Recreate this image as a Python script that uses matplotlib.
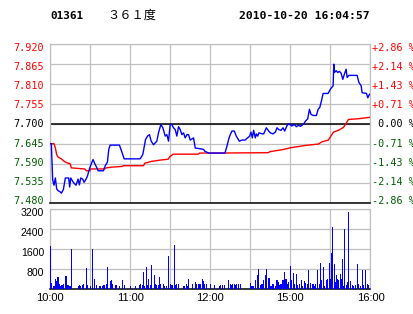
import matplotlib
matplotlib.use("Agg")
import matplotlib.pyplot as plt
from matplotlib.transforms import ScaledTranslation
import numpy as np

# ---------------- data ----------------
code = "01361"
name = "３６１度"
stamp = "2010-10-20 16:04:57"
prev_close = 7.700
price_ticks = [7.480, 7.535, 7.590, 7.645, 7.700, 7.755, 7.810, 7.865, 7.920]
vol_ticks = [800, 1600, 2400, 3200]
time_ticks = [0, 60, 120, 180, 240]
time_labels = ["10:00", "11:00", "12:00", "15:00", "16:00"]

price_min = [0, 1, 2, 3, 4, 5, 6, 7.5, 8.5, 10, 11, 11.5, 14, 14.75, 15.5, 17.5,
             19.5, 21, 22, 23, 24.5, 25.5, 27, 28, 29.5, 31, 32.25, 33.5, 35, 36,
             40, 41.5, 43, 44, 45, 52, 54, 55.5, 67.5, 69.5, 71.5, 73, 74.5, 75.75,
             77.5, 78.75, 80, 81.25, 83, 84.5, 86.25, 87.5, 88.75, 90, 91.25, 92.5,
             93.75, 95, 96.25, 97.5, 98.75, 100, 101.25, 102.5, 103.75, 105, 106.25,
             107.5, 108.75, 112.5, 115, 116, 118.75, 131, 132.5, 134, 135, 136.25,
             138, 139.5, 141.75, 144, 146, 148, 149.5, 150.5, 151.5, 152.5, 153.75,
             154.5, 155.5, 156.5, 158, 160, 162, 163.75, 165, 167, 168.75, 170,
             171.25, 173, 174.5, 175.75, 177.5, 178.75, 181, 183, 184.5, 186.25,
             187.5, 188.75, 190, 191.25, 193, 194.25, 195.5, 197, 199.5, 200.75, 202,
             203.25, 204.5, 208.25, 210, 212, 212.5, 213, 214.25, 215.5, 216.75, 218,
             219.25, 220.5, 221.75, 222.5, 223.75, 230, 231.25, 233, 233.75, 237,
             238, 239, 240]
price_val = [7.645, 7.645, 7.545, 7.530, 7.550, 7.520, 7.515, 7.512, 7.508, 7.518,
             7.540, 7.550, 7.550, 7.525, 7.550, 7.538, 7.530, 7.547, 7.531, 7.550,
             7.547, 7.538, 7.547, 7.555, 7.575, 7.590, 7.601, 7.590, 7.579, 7.570,
             7.570, 7.585, 7.594, 7.629, 7.641, 7.641, 7.620, 7.603, 7.603, 7.615,
             7.656, 7.666, 7.670, 7.652, 7.642, 7.647, 7.652, 7.675, 7.698, 7.689,
             7.666, 7.670, 7.652, 7.698, 7.698, 7.689, 7.684, 7.666, 7.692, 7.684,
             7.670, 7.675, 7.661, 7.670, 7.670, 7.655, 7.658, 7.661, 7.633, 7.631,
             7.629, 7.624, 7.619, 7.619, 7.638, 7.660, 7.670, 7.680, 7.680, 7.666,
             7.652, 7.655, 7.655, 7.661, 7.666, 7.677, 7.661, 7.682, 7.661, 7.672,
             7.666, 7.675, 7.673, 7.672, 7.689, 7.680, 7.675, 7.672, 7.677, 7.689,
             7.684, 7.682, 7.689, 7.680, 7.695, 7.700, 7.694, 7.698, 7.692, 7.696,
             7.693, 7.696, 7.700, 7.707, 7.714, 7.740, 7.726, 7.723, 7.723, 7.740,
             7.745, 7.763, 7.784, 7.784, 7.796, 7.805, 7.865, 7.842, 7.847, 7.842,
             7.845, 7.840, 7.823, 7.838, 7.851, 7.828, 7.834, 7.834, 7.815, 7.805,
             7.786, 7.784, 7.772, 7.780, 7.784]

avg_min = [0, 3, 4, 5, 6, 8.5, 11, 13.5, 15, 16, 26, 27.25, 30, 30.5, 41, 42, 46,
           54, 55, 70, 71, 76, 83.5, 88.5, 89.75, 92.25, 111, 112, 121, 163.5,
           164.75, 173.5, 180.5, 191, 201, 203.5, 208.5, 210.5, 212.25, 216, 219.75,
           221.5, 223.5, 231, 237.25, 240]
avg_val = [7.645, 7.645, 7.633, 7.615, 7.608, 7.603, 7.595, 7.591, 7.590, 7.578,
           7.575, 7.570, 7.570, 7.575, 7.575, 7.578, 7.580, 7.582, 7.584, 7.584,
           7.591, 7.596, 7.600, 7.602, 7.609, 7.616, 7.616, 7.619, 7.619, 7.620,
           7.623, 7.628, 7.634, 7.640, 7.644, 7.650, 7.655, 7.667, 7.677, 7.682,
           7.690, 7.700, 7.712, 7.714, 7.717, 7.718]

vol_min = [0, 1, 3, 4, 5, 6, 7, 8, 9, 10, 12, 13, 14, 15, 16, 21, 22, 23, 24, 25,
           27, 28, 30, 32, 33, 35, 37, 38, 39, 40, 41, 42, 43, 45, 46, 47, 49, 50,
           52, 54, 56, 60, 64, 67, 68, 69, 70, 71, 72, 73, 74, 75, 76, 78, 79, 80,
           81, 82, 83, 85, 86, 87, 89, 90, 91, 92, 93, 94, 95, 96, 100, 101, 102,
           103, 104, 107, 109, 110, 111, 112, 113, 114, 115, 116, 117, 120, 123,
           127, 128, 129, 131, 134, 135, 136, 137, 138, 139, 140, 141, 143,
           150, 151.25, 152.5, 153.75, 155.5, 156.25, 157.5, 158.75, 160, 161.25,
           162, 163.75, 164.5, 165.5, 167, 168.75, 170, 170.75, 172, 173, 174.5,
           175.75, 176.25, 177, 178, 178.75, 180, 180.75, 182, 183, 184.5, 185.5,
           187, 188, 189, 190.5, 191.25, 192.5, 193.75, 195, 196.25, 197, 198, 199,
           200.5, 201.5, 202.5, 203.25, 204.5, 205.75, 207, 208, 209, 209.75,
           210.75, 211.75, 212.75, 213.5, 214.5, 215.25, 216.25, 217.25, 218.25,
           219, 220, 220.75, 221.75, 222.75, 223.75, 224.75, 226.25, 227.5, 228.75,
           230, 231.25, 232.5, 233.75, 235, 236.25, 237.5, 238.75, 240]
vol_val = [1715, 230, 95, 380, 297, 460, 162, 95, 135, 162, 500, 135, 135, 95, 1600,
           95, 135, 95, 135, 200, 810, 135, 95, 1600, 380, 135, 95, 95, 95, 135,
           135, 200, 865, 297, 340, 200, 135, 135, 95, 340, 135, 95, 95, 135, 175,
           135, 660, 95, 865, 135, 380, 135, 945, 540, 175, 135, 135, 460, 175, 175,
           95, 95, 1310, 175, 135, 135, 1755, 135, 175, 175, 95, 95, 175, 95, 380,
           175, 255, 175, 175, 175, 175, 380, 297, 175, 175, 175, 135,
           93, 133, 133, 133, 333, 200, 133, 200, 200, 133, 200, 200, 200,
           227, 93, 93, 333, 533, 800, 133, 200, 333, 533, 800, 440, 440, 93, 200,
           93, 333, 267, 133, 173, 333, 667, 400, 400, 200, 267, 893, 333, 627, 200,
           600, 133, 200, 333, 93, 293, 227, 200, 733, 227, 200, 200, 93, 200, 733,
           200, 1027, 360, 867, 93, 333, 400, 1027, 400, 1427, 2467, 1000, 267, 533,
           400, 333, 600, 400, 1200, 93, 2400, 133, 267, 3107, 307, 133, 93, 133,
           1000, 200, 93, 760, 133, 760, 200, 133, 400]

# ---------------- layout ----------------
W, H = 414, 314
fig = plt.figure(figsize=(W / 100, H / 100), dpi=100)
fig.patch.set_facecolor("white")


def rect(l, t, r, b):
    return [l / W, 1 - b / H, (r - l) / W, (b - t) / H]


GRID = "#c0c0c0"
RED = "#ff0000"
GREEN = "#006000"
BLUE = "#0000ff"
MONO = "DejaVu Sans Mono"
SANS = "Liberation Sans"

ax = fig.add_axes(rect(50, 44.3, 370.5, 203.3))
ax.set_xlim(0, 240)
ax.set_ylim(price_ticks[0], price_ticks[-1])
ax.set_xticks(np.arange(0, 241, 30))
ax.set_xticklabels([])
ax.set_yticks(price_ticks)
ax.grid(True, color=GRID, lw=0.9)
ax.tick_params(length=0, pad=4.3)
for s in ["left", "right", "top"]:
    ax.spines[s].set_color(GRID)
    ax.spines[s].set_linewidth(0.9)
ax.spines["bottom"].set_color("black")
ax.spines["bottom"].set_linewidth(1.1)
ax.axhline(prev_close, color="black", lw=1.1, zorder=2)

ax.plot(avg_min, avg_val, color=RED, lw=1.0, zorder=3)
ax.plot(price_min, price_val, color=BLUE, lw=1.0, zorder=4)


def col(v):
    if abs(v - prev_close) < 1e-9:
        return "black"
    return RED if v > prev_close else GREEN


ax.set_yticklabels([f"{v:.3f}" for v in price_ticks], fontfamily=MONO, fontsize=7.3)
for lab, v in zip(ax.get_yticklabels(), price_ticks):
    lab.set_color(col(v))

ax2 = ax.twinx()
ax2.set_ylim(ax.get_ylim())
ax2.set_yticks(price_ticks)
pct_labels = []
for v in price_ticks:
    p = (v - prev_close) / prev_close * 100
    sign = "+" if p > 0.001 else ("-" if p < -0.001 else " ")
    pct_labels.append(f"{sign}{abs(p):.2f} %")
ax2.set_yticklabels(pct_labels, fontfamily=MONO, fontsize=7.3)
for lab, v in zip(ax2.get_yticklabels(), price_ticks):
    lab.set_color(col(v))
ax2.tick_params(length=0, pad=1.0)
for s in ax2.spines.values():
    s.set_visible(False)

# labels in the reference are spaced slightly tighter than the grid
n = len(price_ticks)
for labs in (ax.get_yticklabels(), ax2.get_yticklabels()):
    for i, lab in enumerate(labs):
        k = n - 1 - i  # index from top
        dy = -(2.4 - k * 0.675) / 100
        lab.set_transform(lab.get_transform() + ScaledTranslation(0, dy, fig.dpi_scale_trans))

# volume panel
av = fig.add_axes(rect(50, 209.3, 370.5, 288.5))
av.set_xlim(0, 240)
av.set_ylim(0, 3200)
av.bar(vol_min, vol_val, width=0.8, color=BLUE, linewidth=0, zorder=3)
av.set_yticks(vol_ticks)
av.set_yticklabels([str(v) for v in vol_ticks], fontfamily=SANS, fontsize=7.6)
av.set_xticks(time_ticks)
av.set_xticklabels(time_labels, fontfamily=SANS, fontsize=8)
av.set_xticks([30, 90, 150, 210], minor=True)
av.grid(True, which="both", color=GRID, lw=0.9)
av.tick_params(which="both", length=0)
av.tick_params(axis="y", pad=4.3)
av.tick_params(axis="x", pad=3.5)
for s in ["left", "right", "top"]:
    av.spines[s].set_color(GRID)
    av.spines[s].set_linewidth(0.9)
av.spines["bottom"].set_color("black")
av.spines["bottom"].set_linewidth(1.1)
off = ScaledTranslation(0, -3 / 100, fig.dpi_scale_trans)
for lab in av.get_yticklabels():
    lab.set_transform(lab.get_transform() + off)

# header
fig.text(50 / W, 1 - 16 / H, code, fontfamily=MONO, fontweight="bold",
         fontsize=7.9, va="center", ha="left")
fig.text(107 / W, 1 - 15.5 / H, name, fontfamily=["Noto Sans CJK SC", "DejaVu Sans"],
         fontsize=8.8, va="center", ha="left")
fig.text(370 / W, 1 - 16 / H, stamp, fontfamily=MONO, fontweight="bold",
         fontsize=8.2, va="center", ha="right")

fig.savefig("out.png", dpi=100, facecolor="white")
